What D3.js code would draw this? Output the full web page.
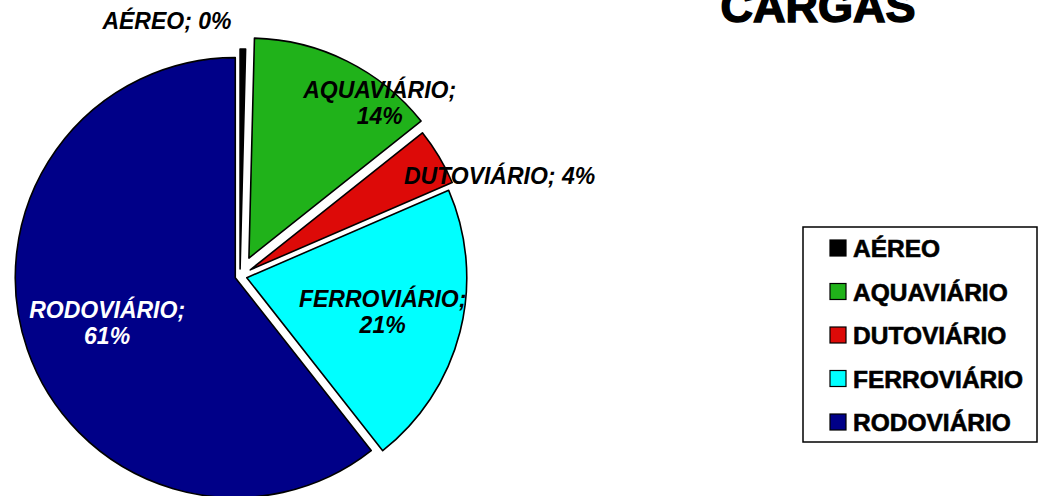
<!DOCTYPE html>
<html>
<head>
<meta charset="utf-8">
<script src="https://cdn.jsdelivr.net/npm/d3@7"></script>
<style>
  body { margin: 0; background: #fff; }
  svg { display: block; }
</style>
</head>
<body>
<div id="chart"></div>
<script>
// Chart data
const categories = ["AÉREO", "AQUAVIÁRIO", "DUTOVIÁRIO", "FERROVIÁRIO", "RODOVIÁRIO"];
const shares = [0.4, 13.9, 4.2, 20.9, 60.6];
const colors = ["#000000", "#20b21a", "#dd0a08", "#00ffff", "#000088"];

//Chart Variables and Constants
const width = 1039;
const height = 496;
const radius = 220;
const cx = 240;
const cy = 276;
const font = "'Liberation Sans', Arial, sans-serif";

//How far each slice is pulled out, and where its label sits (angle in degrees, distance)
const explode = [7, 20, 12, 7, 5];
const labelSpots = [
  { a: -16, r: 265, lines: 1, fill: "#000" },
  { a: 39, r: 222, lines: 2, fill: "#000" },
  { a: 69, r: 278, lines: 1, fill: "#000" },
  { a: 104, r: 147, lines: 2, fill: "#000" },
  { a: 250.5, r: 141, lines: 2, fill: "#fff" }
];

const svg = d3
  .select("#chart")
  .append("svg")
  .attr("width", width)
  .attr("height", height);

//Title (top part cut off like the original)
svg
  .append("text")
  .attr("x", 818)
  .attr("y", 22)
  .attr("text-anchor", "middle")
  .attr("font-family", font)
  .attr("font-size", "45px")
  .attr("font-weight", "bold")
  .attr("stroke", "#000")
  .attr("stroke-width", 1.5)
  .text("CARGAS");

const data = categories.map((c, i) => ({ name: c, value: shares[i], color: colors[i], i }));

const pie = d3.pie().sort(null).value((d) => d.value);
const arc = d3.arc().innerRadius(0).outerRadius(radius);
const arcs = pie(data);

const pieGroup = svg.append("g").attr("transform", `translate(${cx}, ${cy})`);

//Slices, each pushed out along its middle angle
pieGroup
  .selectAll("path")
  .data(arcs)
  .enter()
  .append("path")
  .attr("d", arc)
  .attr("fill", (d) => d.data.color)
  .attr("stroke", "#000")
  .attr("stroke-width", 1.6)
  .attr("stroke-linejoin", "round")
  .attr("transform", (d) => {
    const mid = (d.startAngle + d.endAngle) / 2;
    const e = explode[d.data.i];
    return `translate(${e * Math.sin(mid)}, ${-e * Math.cos(mid)})`;
  });

//Data labels
const labels = pieGroup
  .selectAll(".lbl")
  .data(arcs)
  .enter()
  .append("text")
  .attr("class", "lbl")
  .attr("text-anchor", "middle")
  .attr("font-family", font)
  .attr("font-size", "23px")
  .attr("font-weight", "bold")
  .attr("font-style", "italic")
  .attr("fill", (d) => labelSpots[d.data.i].fill)
  .attr("transform", (d) => {
    const s = labelSpots[d.data.i];
    const a = (s.a * Math.PI) / 180;
    return `translate(${s.r * Math.sin(a)}, ${-s.r * Math.cos(a)})`;
  });

labels.each(function (d) {
  const s = labelSpots[d.data.i];
  const pct = d3.format(".0f")(d.data.value) + "%";
  const t = d3.select(this);
  if (s.lines === 1) {
    t.append("tspan").attr("x", 0).attr("y", 8).text(`${d.data.name}; ${pct}`);
  } else {
    t.append("tspan").attr("x", 0).attr("y", -5).text(`${d.data.name};`);
    t.append("tspan").attr("x", 0).attr("y", 21).text(pct);
  }
});

//Legend
const legend = svg.append("g").attr("transform", "translate(803, 227)");

legend
  .append("rect")
  .attr("width", 234)
  .attr("height", 215)
  .attr("fill", "#fff")
  .attr("stroke", "#000")
  .attr("stroke-width", 1.5);

const items = legend
  .selectAll(".legend-item")
  .data(data)
  .enter()
  .append("g")
  .attr("class", "legend-item")
  .attr("transform", (d, i) => `translate(0, ${21 + i * 43.5})`);

items
  .append("rect")
  .attr("x", 27)
  .attr("y", -8)
  .attr("width", 16)
  .attr("height", 16)
  .attr("fill", (d) => d.color)
  .attr("stroke", "#000")
  .attr("stroke-width", 1.2);

items
  .append("text")
  .attr("x", 50)
  .attr("y", 9)
  .attr("font-family", font)
  .attr("font-size", "24.5px")
  .attr("font-weight", "bold")
  .attr("fill", "#000")
  .attr("stroke", "#000")
  .attr("stroke-width", 0.6)
  .text((d) => d.name);
</script>
</body>
</html>
